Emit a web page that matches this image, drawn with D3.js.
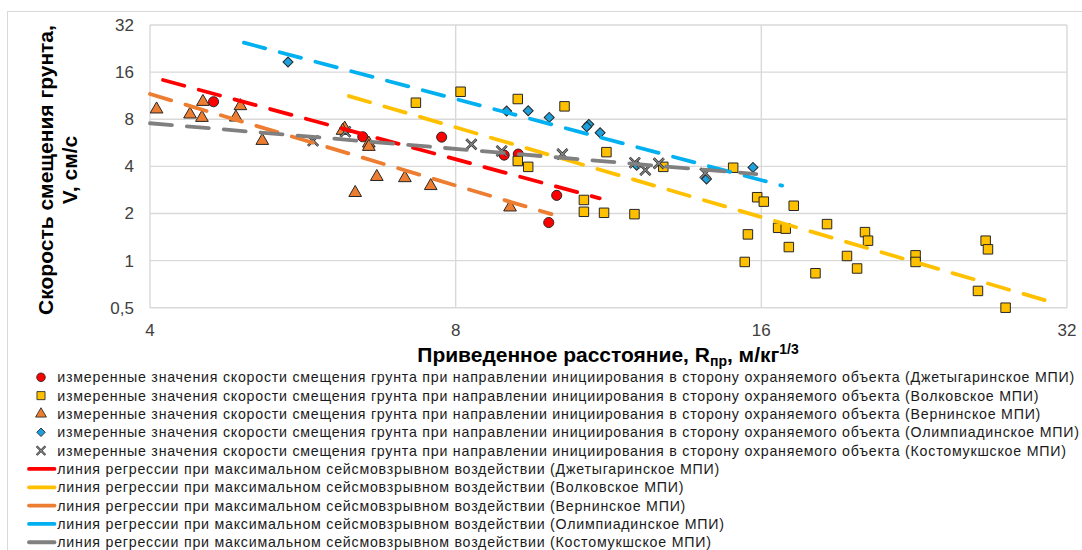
<!DOCTYPE html>
<html>
<head>
<meta charset="utf-8">
<script src="https://cdn.jsdelivr.net/npm/d3@7"></script>
<style>
  body { margin: 0; background: #fff; }
  svg { display: block; font-family: "Liberation Sans", Arial, sans-serif; }
</style>
</head>
<body>
<div id="chart"></div>
<script>
// measured points [R, V]
var dzhetygara = [[4.62,10.35],[6.48,6.18],[7.75,6.15],[8.93,4.72],[9.22,4.79],[10.06,2.61],[9.88,1.75]];
var volkovskoe = [[7.31,10.20],[8.09,11.99],[9.21,10.77],[10.24,9.67],[11.26,4.93],[9.21,4.33],[9.43,3.97],
  [10.70,2.44],[10.70,2.05],[11.20,2.02],[12.00,1.98],[12.81,3.97],[15.01,3.92],[15.85,2.54],[16.09,2.38],
  [15.52,1.47],[15.41,0.98],[17.22,2.24],[16.62,1.62],[16.91,1.60],[17.03,1.22],[18.57,1.71],[18.09,0.83],
  [19.43,1.07],[19.88,0.89],[20.24,1.52],[20.38,1.34],[22.70,1.08],[22.70,0.98],[26.61,1.34],[26.75,1.18],
  [26.15,0.64],[27.84,0.50]];
var verninskoe = [[4.06,9.26],[4.38,8.60],[4.51,10.35],[4.50,8.18],[4.91,9.72],[4.86,8.22],[5.16,5.83],
  [6.22,6.99],[6.19,6.76],[6.57,5.61],[6.57,5.34],[6.37,2.71],[6.69,3.43],[7.13,3.37],[7.56,3.00],[9.05,2.19]];
var olimpiada = [[5.47,18.56],[8.98,9.02],[9.43,9.07],[9.89,8.22],[10.82,7.42],[10.77,7.16],[11.10,6.55],
  [12.06,4.07],[14.13,3.32],[15.70,3.94]];
var kostomuksha = [[5.79,5.83],[6.23,6.65],[8.29,5.53],[8.88,5.01],[10.19,4.79],[12.01,4.22],[12.30,3.79],
  [12.68,4.18],[14.09,3.61]];

// regression lines, end points [R, V]
var lineDzhetygara = [[4.12,14.24],[11.09,2.50]];
var lineVolkovskoe = [[6.28,11.25],[30.53,0.555]];
var lineVerninskoe = [[4.0,11.59],[9.94,1.98]];
var lineOlimpiada = [[4.95,24.66],[16.77,3.01]];
var lineKostomuksha = [[4.0,7.54],[15.82,3.57]];

var xTicks = [4, 8, 16, 32];
var yTicks = [0.5, 1, 2, 4, 8, 16, 32];
var names = ["Джетыгаринское МПИ", "Волковское МПИ", "Вернинское МПИ", "Олимпиадинское МПИ", "Костомукшское МПИ"];

var width = 1082, height = 550;
var svg = d3.select("#chart").append("svg").attr("width", width).attr("height", height);

// outer frame
svg.append("rect").attr("x", 7.5).attr("y", 11.5).attr("width", 1100).attr("height", 600)
  .attr("fill", "none").attr("stroke", "#d9d9d9").attr("stroke-width", 1);

var x = d3.scaleLog().base(2).domain([4, 32]).range([150, 1067]);
var y = d3.scaleLog().base(2).domain([0.5, 32]).range([307.7, 25]);

var grid = svg.append("g");
grid.selectAll(".gx").data(xTicks).enter().append("line")
  .attr("x1", d => x(d)).attr("x2", d => x(d)).attr("y1", y(32)).attr("y2", y(0.5))
  .attr("stroke", "#d9d9d9").attr("stroke-width", 1.4);
grid.selectAll(".gy").data(yTicks).enter().append("line")
  .attr("x1", x(4)).attr("x2", x(32)).attr("y1", d => y(d)).attr("y2", d => y(d))
  .attr("stroke", "#d9d9d9").attr("stroke-width", 1.4);

// tick labels
svg.selectAll(".xl").data(xTicks).enter().append("text")
  .attr("x", d => x(d)).attr("y", 335.5).attr("text-anchor", "middle")
  .attr("font-size", 17).attr("fill", "#404040").text(d => d);
svg.selectAll(".yl").data(yTicks).enter().append("text")
  .attr("x", 134).attr("y", d => y(d) + 6).attr("text-anchor", "end")
  .attr("font-size", 17).attr("fill", "#404040").text(d => String(d).replace(".", ","));

// axis titles
var xt = svg.append("text").attr("x", 608).attr("y", 362).attr("text-anchor", "middle")
  .attr("font-size", 21).attr("font-weight", "bold").attr("fill", "#000");
xt.append("tspan").text("Приведенное расстояние, R");
xt.append("tspan").attr("font-size", 14).attr("dy", 4).text("пр");
xt.append("tspan").attr("dy", -4).text(", м/кг");
xt.append("tspan").attr("font-size", 14).attr("dy", -8).text("1/3");

var yt = svg.append("text").attr("transform", "translate(53,170) rotate(-90)")
  .attr("text-anchor", "middle").attr("font-size", 21).attr("font-weight", "bold").attr("fill", "#000");
yt.append("tspan").attr("x", 0).attr("y", 0).text("Скорость смещения грунта,");
yt.append("tspan").attr("x", 0).attr("y", 24).text("V, см/с");

var colors = ["#ff0000", "#ffc000", "#ed7d31", "#00b0f0", "#808080"];
var markFill = ["#ff0000", "#ffc000", "#ed7d31", "#1ea0dc", "#808080"];
var shapes = [d3.symbolCircle, d3.symbolSquare, d3.symbolTriangle, d3.symbolSquare];
var sizes = [80, 90, 70, 50];
var pointSets = [dzhetygara, volkovskoe, verninskoe, olimpiada, kostomuksha];
var lineSets = [lineDzhetygara, lineVolkovskoe, lineVerninskoe, lineOlimpiada, lineKostomuksha];

function marker(g, i) {
  if (i === 4) {
    var p = d3.symbol().type(d3.symbolX).size(70)();
    g.append("path").attr("d", p).attr("fill", "none").attr("stroke", "#262626").attr("stroke-width", 2.6);
    g.append("path").attr("d", p).attr("fill", "none").attr("stroke", "#8c8c8c").attr("stroke-width", 1.2);
  } else {
    var s = g.append("path").attr("d", d3.symbol().type(shapes[i]).size(sizes[i])())
      .attr("fill", markFill[i]).attr("stroke", "#262626").attr("stroke-width", 1);
    if (i === 3) s.attr("transform", "rotate(45)");
  }
}

var pts = svg.append("g");
pointSets.forEach(function (set, i) {
  set.forEach(function (d) {
    var g = pts.append("g").attr("transform", "translate(" + x(d[0]) + "," + y(d[1]) + ")");
    marker(g, i);
  });
});

var line = d3.line().x(d => x(d[0])).y(d => y(d[1]));
lineSets.forEach(function (set, i) {
  svg.append("path").attr("d", line(set)).attr("fill", "none")
    .attr("stroke", colors[i]).attr("stroke-width", 3.8)
    .attr("stroke-dasharray", "22,15").attr("stroke-linecap", "round");
});

// legend
var lg = svg.append("g");
var rowY = 377.3, step = 18.33;
var labels = [];
names.forEach(function (n) {
  labels.push("измеренные значения скорости смещения грунта при направлении инициирования в сторону охраняемого объекта (" + n + ")");
});
names.forEach(function (n) {
  labels.push("линия регрессии при максимальном сейсмовзрывном воздействии (" + n + ")");
});
var texts = labels.map(function (t, k) {
  return lg.append("text").attr("x", 57.3).attr("y", rowY + k * step + 5)
    .attr("font-size", 14.2).attr("fill", "#1a1a1a").text(t);
});
// spread letters so the first row ends where it does in the picture
var w0 = texts[0].node().getComputedTextLength();
var ls = (1075 - 57.3 - w0) / labels[0].length;
texts.forEach(t => t.attr("letter-spacing", ls));

for (var i = 0; i < 5; i++) {
  var g = lg.append("g").attr("transform", "translate(41," + (rowY + i * step) + ") scale(0.85)");
  marker(g, i);
  lg.append("line").attr("x1", 29).attr("x2", 54.5)
    .attr("y1", rowY + (i + 5) * step).attr("y2", rowY + (i + 5) * step)
    .attr("stroke", colors[i]).attr("stroke-width", 3.8).attr("stroke-linecap", "round");
}
</script>
</body>
</html>
